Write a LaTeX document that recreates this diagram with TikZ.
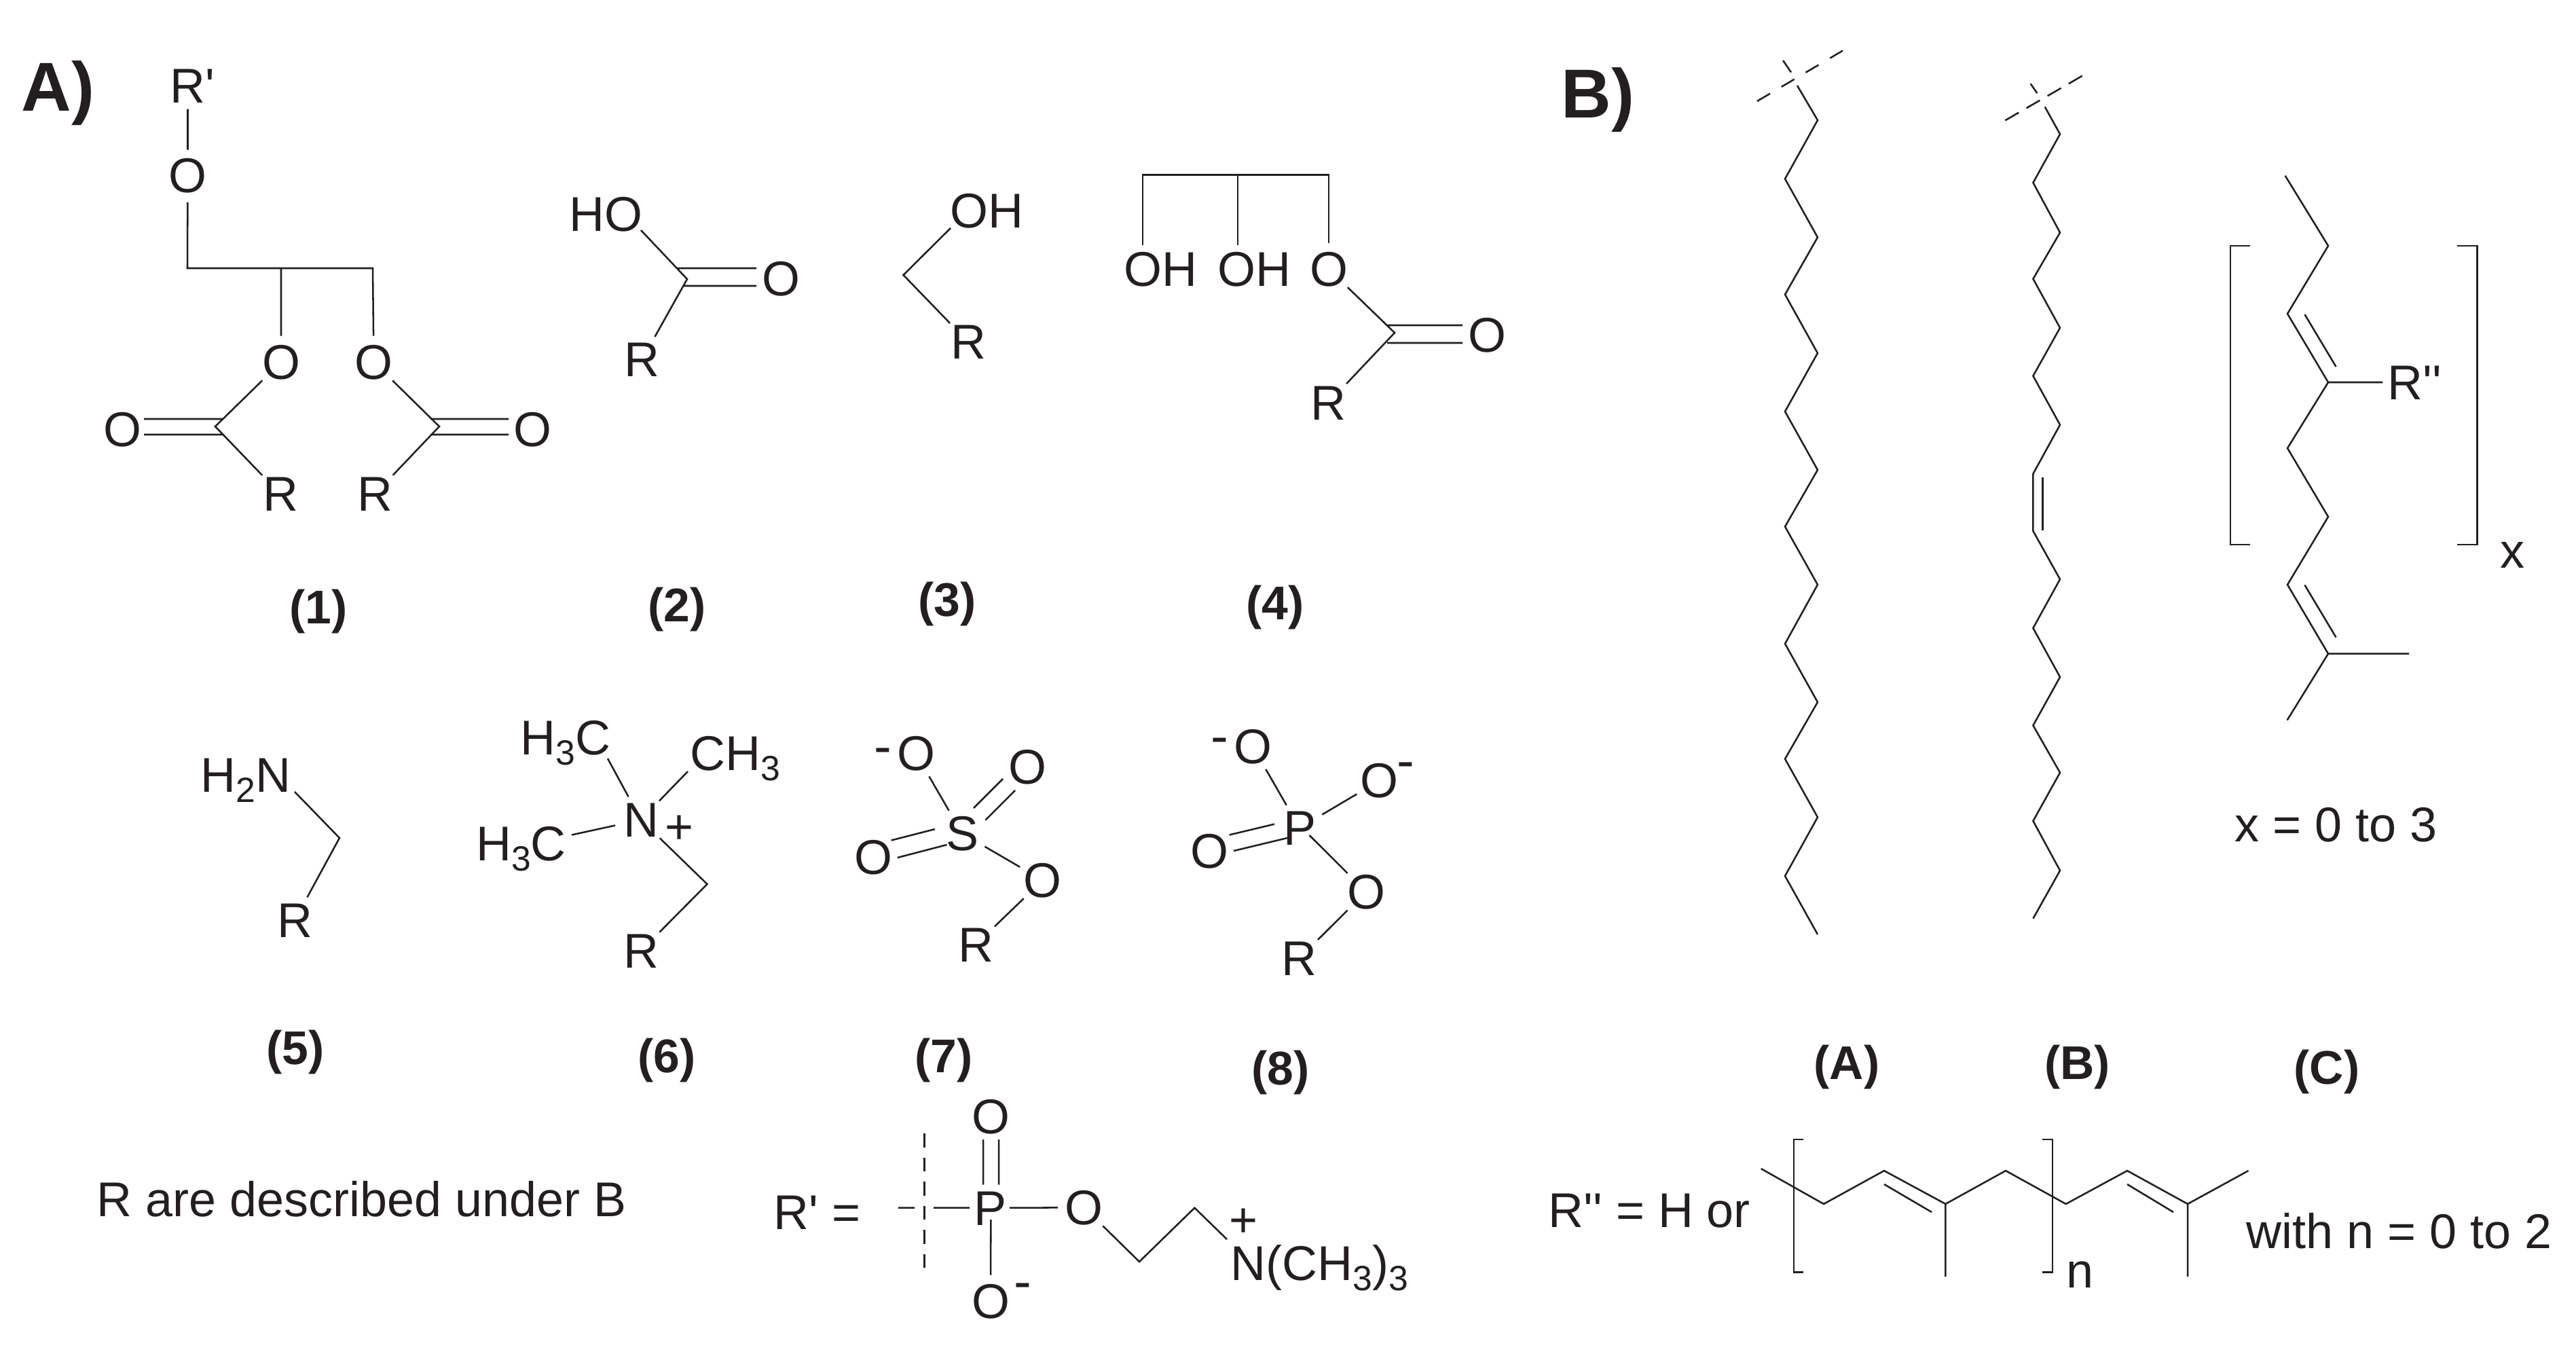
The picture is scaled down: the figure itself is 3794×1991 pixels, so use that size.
\documentclass[tikz,border=0pt]{standalone}
\usepackage{fontspec}
\setmainfont{Liberation Sans}
\newfontfamily\primefont{Liberation Sans}
\definecolor{ink}{HTML}{231F20}
\newcommand{\subs}[1]{\raisebox{-0.15cm}{\fontsize{14.7}{14.7}\selectfont #1}}
\tikzset{
  bond/.style={draw=ink,line width=0.72pt,line join=miter},
  cutdash/.style={draw=ink,line width=0.72pt,dash pattern=on 0.22cm off 0.195cm},
  cutdashb/.style={draw=ink,line width=0.72pt,dash pattern=on 0.23cm off 0.13cm},
  cutdashv/.style={draw=ink,line width=0.72pt,dash pattern=on 0.205cm off 0.15cm},
  atom/.style={circle,inner sep=0pt,minimum size=0.76cm,anchor=base,text=ink,font=\fontsize{20.45}{24}\selectfont},
  txt/.style={inner sep=0pt,anchor=base west,text=ink,font=\fontsize{20.45}{24}\selectfont},
  charge/.style={inner sep=0pt,anchor=base,text=ink,font=\fontsize{22}{26}\selectfont},
  plus/.style={inner sep=0pt,anchor=base,text=ink,font=\fontsize{20.45}{24}\selectfont},
  lab/.style={inner sep=0pt,anchor=base,text=ink,font=\fontsize{19.8}{24}\selectfont\bfseries},
  head/.style={inner sep=0pt,anchor=base west,text=ink,font=\fontsize{29}{34}\selectfont\bfseries}
}
\begin{document}
\begin{tikzpicture}[x=0.01cm,y=-0.01cm]
\useasboundingbox (0,0) rectangle (3794,1991);
% headings and labels
\node[head] (headA) at (31,164) {A)};
\node[head] (headB) at (2299,173.5) {B)};
\node[lab] (l1) at (469,918) {(1)};
\node[lab] (l2) at (997,915) {(2)};
\node[lab] (l3) at (1395,907) {(3)};
\node[lab] (l4) at (1878,912) {(4)};
\node[lab] (l5) at (435,1567) {(5)};
\node[lab] (l6) at (982,1579) {(6)};
\node[lab] (l7) at (1390,1579) {(7)};
\node[lab] (l8) at (1886,1597) {(8)};
\node[lab] (lA) at (2720,1589) {(A)};
\node[lab] (lB) at (3059.5,1589) {(B)};
\node[lab] (lC) at (3427,1596) {(C)};
% single atom labels
\foreach \n/\t/\x/\y in {
  oa/O/276.5/284, ob/O/414/558, oc/O/550.5/558, od/O/180/657, oe/O/784/657,
  ra/R/413/752.5, rb/R/552/752.5,
  of/O/1150/435, rc/R/945.5/554.5,
  rd/R/1426/528.5,
  og/O/1957/421, oh/O/2190/518, re/R/1956.5/618,
  rf/R/434/1380,
  na/N/944/1232, rg/R/944/1425,
  oi/O/1349/1134.6, oj/O/1513/1154.5, sa/S/1417/1252, ok/O/1286/1287, ol/O/1535.6/1321, rh/R/1437/1416,
  om/O/1845/1124, on/O/2031.6/1174.4, pa/P/1914/1244, oo/O/1781/1278.7, op/O/2012/1338, ri/R/1913.5/1436,
  pb/P/1458/1804.6, oq/O/1459/1669, or/O/1596.7/1803, os/O/1459/1941
  } \node[atom] (\n) at (\x,\y) {\t};
% longer texts
\node[txt] (rprime) at (250,151.5) {R{\primefont '}};
\node[txt] (ho) at (838,340) {HO};
\node[txt] (oh1) at (1399,335) {OH};
\node[txt] (oh2) at (1654.5,421) {OH};
\node[txt] (oh3) at (1792.5,421) {OH};
\node[txt] (hhn) at (295,1166) {H\subs{2}N};
\node[txt] (hc1) at (766,1111) {H\subs{3}C};
\node[txt] (ch1) at (1015.5,1134) {CH\subs{3}};
\node[txt] (hc2) at (700.6,1267) {H\subs{3}C};
\node[txt] (ndesc) at (142,1791) {R are described under B};
\node[txt] (rpeq) at (1139,1810) {R{\primefont '} =};
\node[txt] (nme) at (1812,1885) {N(CH\subs{3})\subs{3}};
\node[txt] (rpp) at (3516,588) {R{\primefont ''}};
\node[txt] (xsub) at (3682,836) {x};
\node[txt] (xrange) at (3291,1239) {x = 0 to 3};
\node[txt] (rppeq) at (2280,1807) {R{\primefont ''} = H or};
\node[txt] (nsub) at (3043,1896.7) {n};
\node[txt] (nrange) at (3308,1838) {with n = 0 to 2};
% charges
\node[plus] (pl1) at (1000,1242) {+};
\node[plus] (pl2) at (1831.7,1821) {+};
\node[charge] (mi1) at (1300.5,1125) {-};
\node[charge] (mi2) at (1796,1110) {-};
\node[charge] (mi3) at (2070,1146) {-};
\node[charge] (mi4) at (1506,1913) {-};
% vertices and bond ends
\foreach \n/\x/\y in {
  c1/276/395, c2/414/395, c3/549/395, t1/276.5/160.6,
  b1/317/628, e1/647/628, d1a/212/617, d1b/328/617, d2a/212/640, d2b/328/640,
  d3a/634/617, d3b/749/617, d4a/634/640, d4b/749/640,
  ho1/944/339, c5/1012/411, d5a/997/395, d5b/1114/395, d6a/1006/421, d6b/1114/421,
  oh1e/1400/336, c6/1330.5/405,
  t2/1683/257.6, t3/1823/257.6, t4/1957/257.6, t2e/1683/361, t3e/1823/361,
  c7/2054/490, d7a/2043/479, d7b/2154/479, d8a/2043/505, d8b/2154/505,
  hn/434/1166, c8/500/1234,
  hc1e/895/1117, ch1e/1013/1136, hc2e/842/1229.5, c9/1041.5/1302,
  d9a/1477/1147, d9b/1434/1190, d10a/1495/1164, d10b/1451.5/1207.6,
  d11a/1312.6/1237.5, d11b/1377/1221, d12a/1321.7/1263, d12b/1394.6/1244,
  d13a/1810.6/1229.5, d13b/1877/1213.6, d14a/1817/1253, d14b/1896/1234, p8e/1928.5/1230,
  cv1/1361.3/1669, cv2/1361.3/1871, ch2a/1323/1778.7, ch2b/1347/1778.7, ch2c/1375/1778.7, ch2d/1428/1778.7,
  pr/1487/1778.7, pd/1459.3/1796, d15a/1448/1678, d15b/1448/1744.7, d16a/1471/1678, d16b/1471/1744.7,
  ch3/1678/1858, ch4/1759.4/1778.7, ch5/1807/1825,
  cda/2588/149, cdb/2714/74.6, cdc/2626/89, cdd/2638/106.5,
  cea/2953.3/177.3, ceb/3066.7/111.7, cec/2990.7/123.3, ced/3000.3/137.3,
  za0/2647/126, za1/2677/177, za2/2629/263.4, za3/2677/349.5, za4/2629/433.7, za5/2677/520, za6/2629/606,
  za7/2677/692, za8/2629/775.5, za9/2677/861, za10/2629/948, za11/2677/1034, za12/2629/1117.6, za13/2677/1203.5,
  za14/2629/1290, za15/2677/1376,
  zb0/3011.7/157.3, zb1/3034/197.5, zb2/2994.4/269, zb3/3034/342.5, zb4/2994.4/410.7, zb5/3034/482.8,
  zb6/2994.4/553.6, zb7/3034/625.6, zb8/2994.4/697.7, zb9/2994.4/782, zb10/3034/853, zb11/2994.4/925,
  zb12/3034/997, zb13/2994.4/1068.3, zb14/3034/1137.8, zb15/2994.4/1209, zb16/3034/1282, zb17/2994.4/1352.7,
  dba/3008.7/703, dbb/3008.7/781,
  zc0/3365.6/258.7, zc1/3429/362, zc2/3369/462, zc3/3429/563, zc4/3369/660, zc5/3429/761, zc6/3369/861,
  zc7/3429/962.7, zc8/3368.6/1060.5, zc9/3548/962.7, rppe/3509.4/563,
  dca/3394.4/463, dcb/3440.5/540, dcc/3394.4/861.5, dcd/3440.5/938.5,
  bl1/3314.4/362, bl2/3285/362, bl3/3285/802, bl4/3314.4/802,
  br1/3619/362, br2/3648.6/362, br3/3648.6/802, br4/3619/802,
  zd0/2593.7/1721, zd1/2686/1773, zd2/2775/1724, zd3/2865.4/1773, zd4/2954/1724, zd5/3042.7/1773,
  zd6/3133/1724, zd7/3222/1773, zd8/3311.5/1724,
  dda/2775/1744, ddb/2845/1785, ddc/3133/1744, ddd/3201/1785,
  dv1/2865.4/1880, dv2/3222/1880,
  bm1/2655.7/1678, bm2/2642/1678, bm3/2642/1873.7, bm4/2655.7/1873.7,
  bn1/3008/1678, bn2/3023/1678, bn3/3023/1873.7, bn4/3008/1873.7
  } \coordinate (\n) at (\x,\y);
% compound 1
\draw[bond] (t1) -- (oa) (oa) -- (c1) -- (c3) -- (oc) (c2) -- (ob);
\draw[bond] (ob) -- (b1) -- (ra) (d1a) -- (d1b) (d2a) -- (d2b);
\draw[bond] (oc) -- (e1) -- (rb) (d3a) -- (d3b) (d4a) -- (d4b);
% compound 2
\draw[bond] (ho1) -- (c5) -- (rc) (d5a) -- (d5b) (d6a) -- (d6b);
% compound 3
\draw[bond] (oh1e) -- (c6) -- (rd);
% compound 4
\draw[bond] (t2e) -- (t2) -- (t4) -- (og) (t3) -- (t3e);
\draw[bond] (og) -- (c7) -- (re) (d7a) -- (d7b) (d8a) -- (d8b);
% compound 5
\draw[bond] (hn) -- (c8) -- (rf);
% compound 6
\draw[bond] (hc1e) -- (na) (ch1e) -- (na) (hc2e) -- (na) (na) -- (c9) -- (rg);
% compound 7
\draw[bond] (sa) -- (oi) (sa) -- (ol) (ol) -- (rh) (d9a) -- (d9b) (d10a) -- (d10b) (d11a) -- (d11b) (d12a) -- (d12b);
% compound 8
\draw[bond] (pa) -- (om) (pa) -- (on) (p8e) -- (op) (op) -- (ri) (d13a) -- (d13b) (d14a) -- (d14b);
% R' group
\draw[cutdashv] (cv1) -- (cv2);
\draw[bond] (ch2a) -- (ch2b) (ch2c) -- (ch2d) (pr) -- (or) (pd) -- (os) (d15a) -- (d15b) (d16a) -- (d16b);
\draw[bond] (or) -- (ch3) -- (ch4) -- (ch5);
% chains A and B
\draw[cutdash] (cda) -- (cdb);
\draw[bond] (cdc) -- (cdd);
\draw[bond] (za0) \foreach \i in {1,...,15} { -- (za\i) };
\draw[cutdashb] (cea) -- (ceb);
\draw[bond] (cec) -- (ced);
\draw[bond] (zb0) \foreach \i in {1,...,17} { -- (zb\i) };
\draw[bond] (dba) -- (dbb);
% chain C
\draw[bond] (zc0) \foreach \i in {1,...,8} { -- (zc\i) };
\draw[bond] (zc3) -- (rppe) (zc7) -- (zc9) (dca) -- (dcb) (dcc) -- (dcd);
\draw[bond] (bl1) -- (bl2) -- (bl3) -- (bl4);
\draw[bond] (br1) -- (br2) -- (br3) -- (br4);
% R'' group
\draw[bond] (zd0) \foreach \i in {1,...,8} { -- (zd\i) };
\draw[bond] (zd3) -- (dv1) (zd7) -- (dv2) (dda) -- (ddb) (ddc) -- (ddd);
\draw[bond] (bm1) -- (bm2) -- (bm3) -- (bm4);
\draw[bond] (bn1) -- (bn2) -- (bn3) -- (bn4);
\end{tikzpicture}
\end{document}
